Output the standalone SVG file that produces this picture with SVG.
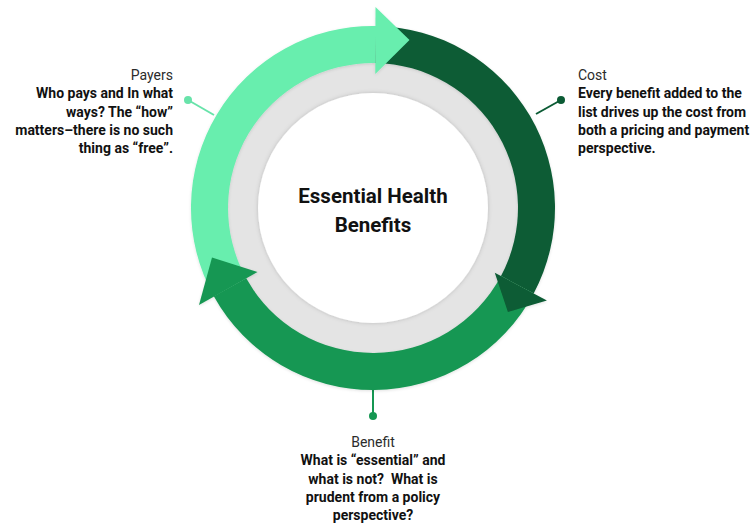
<svg xmlns="http://www.w3.org/2000/svg" width="754" height="529" viewBox="0 0 754 529">
  <style>
    .label { font-family: Roboto, "Liberation Sans", Arial, sans-serif; font-size: 14px; fill: #2b2b2b; }
    .body { font-family: Roboto, "Liberation Sans", Arial, sans-serif; font-size: 14px; font-weight: bold; fill: #111; }
    .title { font-family: Roboto, "Liberation Sans", Arial, sans-serif; font-size: 20.5px; font-weight: bold; fill: #111; text-anchor: middle; }
    .light { fill: #68EEAE; }
    .dark { fill: #0B5B34; }
    .mid { fill: #159752; }
  </style>
  <defs>
    <filter id="soft" x="-20%" y="-20%" width="140%" height="140%">
      <feDropShadow dx="0" dy="0" stdDeviation="2" flood-color="#000" flood-opacity="0.18"/>
    </filter>
    <filter id="faint" x="-10%" y="-10%" width="120%" height="120%">
      <feDropShadow dx="0" dy="1" stdDeviation="1.5" flood-color="#000" flood-opacity="0.12"/>
    </filter>
  </defs>
  <rect width="754" height="529" fill="#ffffff"/>

  <!-- hub: grey ring with white centre -->
  <g id="hub">
    <circle cx="373" cy="208" r="146" fill="#E4E4E4"/>
    <circle cx="373" cy="208" r="115" fill="#ffffff" filter="url(#soft)"/>
    <text class="title" x="373" y="203">Essential Health</text>
    <text class="title" x="373" y="232">Benefits</text>
  </g>

  <!-- connectors from the ring to the text blocks -->
  <g id="connectors" stroke-width="2">
    <line x1="214" y1="115" x2="188" y2="100" stroke="#68E3AA"/>
    <circle cx="188" cy="100" r="4" fill="#68E3AA"/>
    <line x1="536" y1="114" x2="561" y2="100" stroke="#0B5B34"/>
    <circle cx="561" cy="100" r="4" fill="#0B5B34"/>
    <line x1="373" y1="389" x2="373" y2="416" stroke="#159752"/>
    <circle cx="373" cy="416" r="4" fill="#159752"/>
  </g>

  <g filter="url(#faint)">
    <!-- arc bodies -->
    <g id="payers-arc">
      <path class="light" d="M 213.8 296.2 A 182 182 0 0 1 376.2 26.0 L 375.5 63.0 A 145 145 0 0 0 246.2 278.3 Z"/>
    </g>
    <g id="cost-arc">
      <path class="dark" d="M 376.2 26.0 A 182 182 0 0 1 533.7 293.4 L 501.0 276.1 A 145 145 0 0 0 375.5 63.0 Z"/>
    </g>
    <g id="benefit-arc">
      <path class="mid" d="M 533.7 293.4 A 182 182 0 0 1 213.8 296.2 L 246.2 278.3 A 145 145 0 0 0 501.0 276.1 Z"/>
    </g>

    <!-- arrow heads, each lying over the following arc -->
    <g id="heads">
      <polygon class="light" points="375.5,7.0 375.3,74.0 409.5,40.0"/>
      <polygon class="dark" points="546.9,300.5 494.8,272.8 507.9,312.0"/>
      <polygon class="mid" points="199.0,305.0 257.5,272.0 212.0,257.5"/>
    </g>
  </g>

  <g id="payers" text-anchor="end">
    <text class="label" x="173" y="80">Payers</text>
    <text class="body" x="173" y="98">Who pays and In what</text>
    <text class="body" x="173" y="117">ways? The “how”</text>
    <text class="body" x="173" y="135">matters–there is no such</text>
    <text class="body" x="173" y="153">thing as “free”.</text>
  </g>

  <g id="cost">
    <text class="label" x="578" y="80">Cost</text>
    <text class="body" x="578" y="98">Every benefit added to the</text>
    <text class="body" x="578" y="117">list drives up the cost from</text>
    <text class="body" x="578" y="135">both a pricing and payment</text>
    <text class="body" x="578" y="153">perspective.</text>
  </g>

  <g id="benefit" text-anchor="middle">
    <text class="label" x="373" y="447">Benefit</text>
    <text class="body" x="373" y="465">What is “essential” and</text>
    <text class="body" x="373" y="484" xml:space="preserve">what is not?  What is</text>
    <text class="body" x="373" y="502">prudent from a policy</text>
    <text class="body" x="373" y="520">perspective?</text>
  </g>
</svg>
